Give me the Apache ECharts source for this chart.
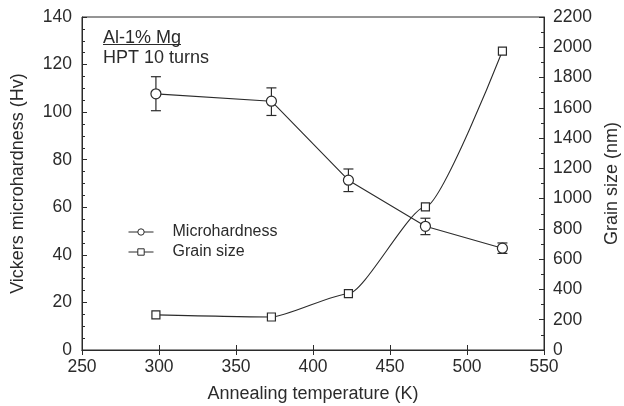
<!DOCTYPE html>
<html>
<head>
<meta charset="utf-8">
<script src="https://cdn.jsdelivr.net/npm/echarts@6/dist/echarts.min.js"></script>
<style>html,body{margin:0;padding:0;background:#fff}#c{width:624px;height:406px}</style>
</head>
<body>
<div id="c"></div>
<script>
// Annealing temperatures (K)
var temperatures = [298, 373, 423, 473, 523];
// Vickers microhardness (Hv) with error bar limits
var hardness = [107.7, 104.6, 71.4, 52.0, 42.8];
var hardnessLow = [100.6, 98.6, 66.6, 48.5, 40.6];
var hardnessHigh = [114.9, 110.2, 76.1, 55.4, 45.0];
// Grain size (nm)
var grainSize = [232, 218, 372, 946, 1975];

var ink = '#2b2b2b';
var font = 'Liberation Sans, Arial, sans-serif';

var chart = echarts.init(document.getElementById('c'), null, {renderer: 'canvas'});

var errData = temperatures.map(function (t, i) { return [t, hardnessLow[i], hardnessHigh[i]]; });

chart.setOption({
  animation: false,
  backgroundColor: '#fff',
  textStyle: {fontFamily: font},
  grid: {left: 82, right: 80, top: 17, bottom: 56, show: true, borderColor: ink, borderWidth: 1,
         containLabel: false, outerBoundsMode: 'none'},
  legend: {
    orient: 'vertical', left: 123, top: 219, itemWidth: 25, itemHeight: 8, itemGap: 4,
    lineStyle: {width: 1},
    itemStyle: {borderWidth: 1},
    textStyle: {fontSize: 16, color: ink, fontFamily: font, padding: [0, 0, 0, 14]},
    data: ['Microhardness', 'Grain size']
  },
  xAxis: [{
    type: 'value', min: 250, max: 550, interval: 50,
    name: 'Annealing temperature (K)', nameLocation: 'middle', nameGap: 35,
    nameTextStyle: {fontSize: 18, color: ink},
    axisLine: {lineStyle: {color: ink}},
    axisTick: {inside: true, length: 5, lineStyle: {color: ink}},
    axisLabel: {fontSize: 17.5, color: ink, margin: 8},
    splitLine: {show: false}
  }, {
    type: 'value', min: 250, max: 550, interval: 50, position: 'top',
    axisLine: {lineStyle: {color: ink}},
    axisTick: {inside: true, length: 5, lineStyle: {color: ink}},
    axisLabel: {show: false}, splitLine: {show: false}
  }],
  yAxis: [{
    type: 'value', min: 0, max: 140, interval: 20,
    name: 'Vickers microhardness (Hv)', nameLocation: 'middle', nameGap: 55, nameRotate: 90,
    nameTextStyle: {fontSize: 18, color: ink},
    axisLine: {show: true, lineStyle: {color: ink}},
    axisTick: {inside: true, length: 5, lineStyle: {color: ink}},
    minorTick: {show: true, splitNumber: 4, length: 3, lineStyle: {color: ink}},
    axisLabel: {fontSize: 17.5, color: ink, margin: 10},
    splitLine: {show: false}
  }, {
    type: 'value', min: 0, max: 2200, interval: 200,
    name: 'Grain size (nm)', nameLocation: 'middle', nameGap: 52, nameRotate: 90,
    nameTextStyle: {fontSize: 18, color: ink},
    axisLine: {show: true, lineStyle: {color: ink}},
    axisTick: {inside: true, length: 5, lineStyle: {color: ink}},
    minorTick: {show: true, splitNumber: 2, length: 3, lineStyle: {color: ink}},
    axisLabel: {fontSize: 17.5, color: ink, margin: 9, formatter: function (v) { return String(v); }},
    splitLine: {show: false}
  }],
  graphic: [
    {type: 'text', left: 103, top: 29, style: {text: 'Al-1% Mg', fontSize: 18, fill: ink, fontFamily: font}},
    {type: 'line', shape: {x1: 103, y1: 44.5, x2: 181, y2: 44.5}, style: {stroke: ink, lineWidth: 1}},
    {type: 'text', left: 103, top: 49, style: {text: 'HPT 10 turns', fontSize: 18, fill: ink, fontFamily: font}}
  ],
  series: [{
    name: 'Microhardness', type: 'line', xAxisIndex: 0, yAxisIndex: 0,
    data: temperatures.map(function (t, i) { return [t, hardness[i]]; }),
    symbol: 'circle', symbolSize: 10, showAllSymbol: true,
    itemStyle: {color: '#fff', borderColor: ink, borderWidth: 1.2},
    lineStyle: {color: ink, width: 1.1}, z: 3
  }, {
    name: 'Microhardness error', type: 'custom', xAxisIndex: 0, yAxisIndex: 0,
    data: errData, z: 2,
    renderItem: function (params, api) {
      var top = api.coord([api.value(0), api.value(2)]);
      var bot = api.coord([api.value(0), api.value(1)]);
      var w = 5;
      var st = {stroke: ink, lineWidth: 1.2};
      return {type: 'group', children: [
        {type: 'line', shape: {x1: top[0], y1: top[1], x2: bot[0], y2: bot[1]}, style: st},
        {type: 'line', shape: {x1: top[0] - w, y1: top[1], x2: top[0] + w, y2: top[1]}, style: st},
        {type: 'line', shape: {x1: bot[0] - w, y1: bot[1], x2: bot[0] + w, y2: bot[1]}, style: st}
      ]};
    }
  }, {
    name: 'Grain size', type: 'line', xAxisIndex: 0, yAxisIndex: 1,
    data: temperatures.map(function (t, i) { return [t, grainSize[i]]; }),
    symbol: 'rect', symbolSize: 8, smooth: 0.2, smoothMonotone: 'x',
    itemStyle: {color: '#fff', borderColor: ink, borderWidth: 1.2},
    lineStyle: {color: ink, width: 1.1}, z: 3
  }]
});
</script>
</body>
</html>
